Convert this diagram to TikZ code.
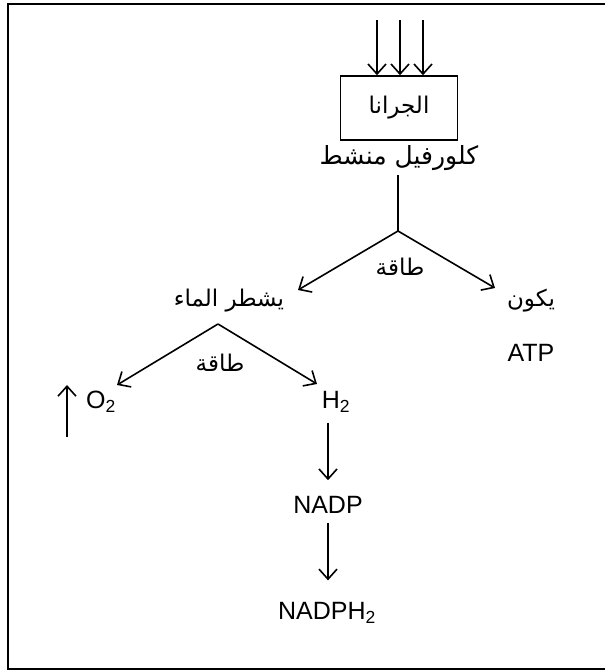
\documentclass[tikz,border=0pt]{standalone}
\usepackage{fontspec}
\setmainfont{Liberation Sans}
\newfontfamily\arabicfont[Script=Arabic]{DejaVu Sans}
\TeXXeTstate=1
\usetikzlibrary{arrows.meta}
\begin{document}
\begin{tikzpicture}[x=1pt,y=-1pt,
  arr/.style={-{Straight Barb[length=10pt,width=18pt]}, line width=1.6pt},
  ln/.style={line width=1.6pt},
  ar/.style={font=\arabicfont\fontsize{23}{27}\selectfont, inner sep=0pt},
  lt/.style={font=\fontsize{25}{30}\selectfont, inner sep=0pt}]
\useasboundingbox (0,0) rectangle (605,672);
\draw[line width=2.2pt] (605,4) -- (8,4) -- (8,669) -- (605,669);
% box
\node[draw, line width=1.6pt, minimum width=117pt, minimum height=64pt, ar] (box) at (399,108) {\beginR الجرانا\endR};
\coordinate (t1) at (377,20);
\coordinate (t2) at (400,20);
\coordinate (t3) at (423,20);
\draw[arr] (t1) -- (t1 |- box.north);
\draw[arr] (t2) -- (t2 |- box.north);
\draw[arr] (t3) -- (t3 |- box.north);
\node[ar, font=\arabicfont\fontsize{25}{29}\selectfont] (chl) at (399,158) {\beginR كلورفيل منشط\endR};
\coordinate (apex1) at (398,231);
\draw[ln] (chl.south -| apex1) ++(0,4) -- (apex1);
\coordinate (e1) at (298,290);
\coordinate (e2) at (495,288);
\draw[arr] (apex1) -- (e1);
\draw[arr] (apex1) -- (e2);
\node[ar] (en1) at (400,267) {\beginR طاقة\endR};
\node[ar] (split) at (229,301) {\beginR يشطر الماء\endR};
\node[ar] (form) at (531,301) {\beginR يكون\endR};
\node[lt] (atp) at (531,353) {ATP};
\coordinate (apex2) at (218,324);
\coordinate (e3) at (117,385);
\coordinate (e4) at (317,384);
\draw[arr] (apex2) -- (e3);
\draw[arr] (apex2) -- (e4);
\node[ar] (en2) at (220,363) {\beginR طاقة\endR};
\node[lt] (o2) at (101,402) {O\textsubscript{2}};
\coordinate (u1) at (67,437);
\coordinate (u2) at (67,385);
\draw[arr] (u1) -- (u2);
\node[lt] (h2) at (336,402) {H\textsubscript{2}};
\node[lt] (nadp) at (328,505) {NADP};
\node[lt] (nadph) at (327,613) {NADPH\textsubscript{2}};
\draw[arr, shorten <=10pt, shorten >=16pt] (h2.south -| nadp) -- (nadp.north);
\draw[arr, shorten <=9pt, shorten >=22pt] (nadp.south) -- (nadph.north -| nadp);
\end{tikzpicture}
\end{document}
